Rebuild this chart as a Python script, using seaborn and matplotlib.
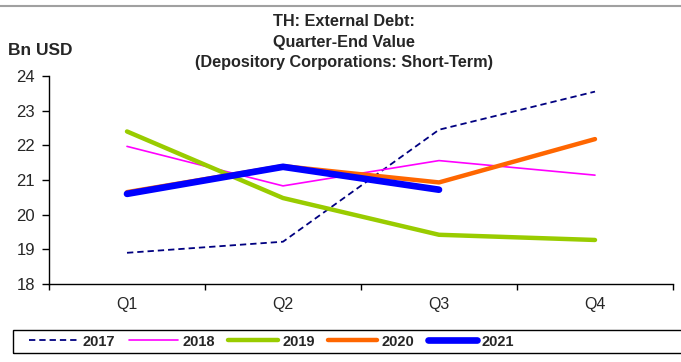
import matplotlib
matplotlib.use("Agg")
import matplotlib.pyplot as plt
from matplotlib.patches import Rectangle
import seaborn as sns
import pandas as pd

quarters = ["Q1", "Q2", "Q3", "Q4"]
years = ["2017", "2018", "2019", "2020", "2021"]
v2017 = [18.90, 19.22, 22.45, 23.55]
v2018 = [21.97, 20.83, 21.56, 21.14]
v2019 = [22.40, 20.48, 19.42, 19.27]
v2020 = [20.65, 21.40, 20.93, 22.18]
v2021 = [20.60, 21.38, 20.72]
y_ticks = [18, 19, 20, 21, 22, 23, 24]
title_lines = ["TH: External Debt:", "Quarter-End Value", "(Depository Corporations: Short-Term)"]

series = {"2017": v2017, "2018": v2018, "2019": v2019, "2020": v2020, "2021": v2021}
rows = []
for yr in years:
    for q, v in zip(quarters, series[yr]):
        rows.append({"Quarter": q, "Year": yr, "Value": v})
df = pd.DataFrame(rows)
df["pos"] = df["Quarter"].map({q: i for i, q in enumerate(quarters)})

styles = {
    "2017": dict(color="#000080", lw=1.3, ls=(0, (3.5, 2.2))),
    "2018": dict(color="#FF00FF", lw=1.2, ls="-"),
    "2019": dict(color="#99CC00", lw=3.2, ls="-"),
    "2020": dict(color="#FF6600", lw=3.2, ls="-"),
    "2021": dict(color="#0000FF", lw=4.8, ls="-"),
}

sns.set_style("white")
plt.rcParams["font.family"] = ["Liberation Sans", "DejaVu Sans"]

fig = plt.figure(figsize=(6.81, 3.62), dpi=100)
ax = fig.add_axes([49 / 681, 1 - 284 / 362, 624 / 681, 208 / 362])

for yr in years:
    st = styles[yr]
    sub = df[df["Year"] == yr]
    sns.lineplot(data=sub, x="pos", y="Value", ax=ax, color=st["color"],
                 linewidth=st["lw"], linestyle=st["ls"], label=yr,
                 solid_capstyle="round", dash_capstyle="butt", legend=False)

ax.set_xlim(-0.5, 3.5)
ax.set_ylim(18, 24)
ax.set_yticks(y_ticks)
ax.set_yticklabels([str(t) for t in y_ticks], fontsize=12)
ax.set_xticks([-0.5, 0.5, 1.5, 2.5, 3.5])
ax.set_xticklabels([])
ax.set_xticks(range(len(quarters)), minor=True)
ax.set_xticklabels(quarters, minor=True, fontsize=11.5)
ax.tick_params(axis="x", which="major", direction="out", length=4, width=1, color="black", bottom=True)
ax.tick_params(axis="x", which="minor", length=0, pad=9)
ax.tick_params(axis="y", direction="out", length=5, width=1, color="black", left=True, pad=5)
ax.set_xlabel("")
ax.set_ylabel("")
for side in ["top", "right"]:
    ax.spines[side].set_visible(False)
for side in ["left", "bottom"]:
    ax.spines[side].set_color("black")
    ax.spines[side].set_linewidth(1)

# three-line bold title, one baseline per line
for line, base in zip(title_lines, [26, 46.5, 66.5]):
    fig.text(344 / 681, 1 - base / 362, line, ha="center", va="baseline",
             fontsize=11.7, fontweight="bold")
fig.text(8 / 681, 1 - 55 / 362, "Bn USD", ha="left", va="baseline", fontsize=12.5, fontweight="bold")

# thin grey rule along the top edge
fig.add_artist(plt.Line2D([0, 1], [1 - 6 / 362, 1 - 6 / 362], transform=fig.transFigure,
                          color="#A0A0A0", lw=1.5))

# legend frame running off the right edge
fig.add_artist(Rectangle((13 / 681, 1 - 353 / 362), 700 / 681, 23 / 362, transform=fig.transFigure,
                         facecolor="none", edgecolor="black", lw=1))

handles, labels = ax.get_legend_handles_labels()
leg = fig.legend(handles, labels, loc="center left", bbox_to_anchor=(29 / 681, 1 - 341.5 / 362),
                 ncol=5, frameon=False, handlelength=3.4, handletextpad=0.3,
                 columnspacing=0.9, borderpad=0, borderaxespad=0,
                 prop={"weight": "bold", "size": 10.5})

fig.savefig("out.png", dpi=100)
